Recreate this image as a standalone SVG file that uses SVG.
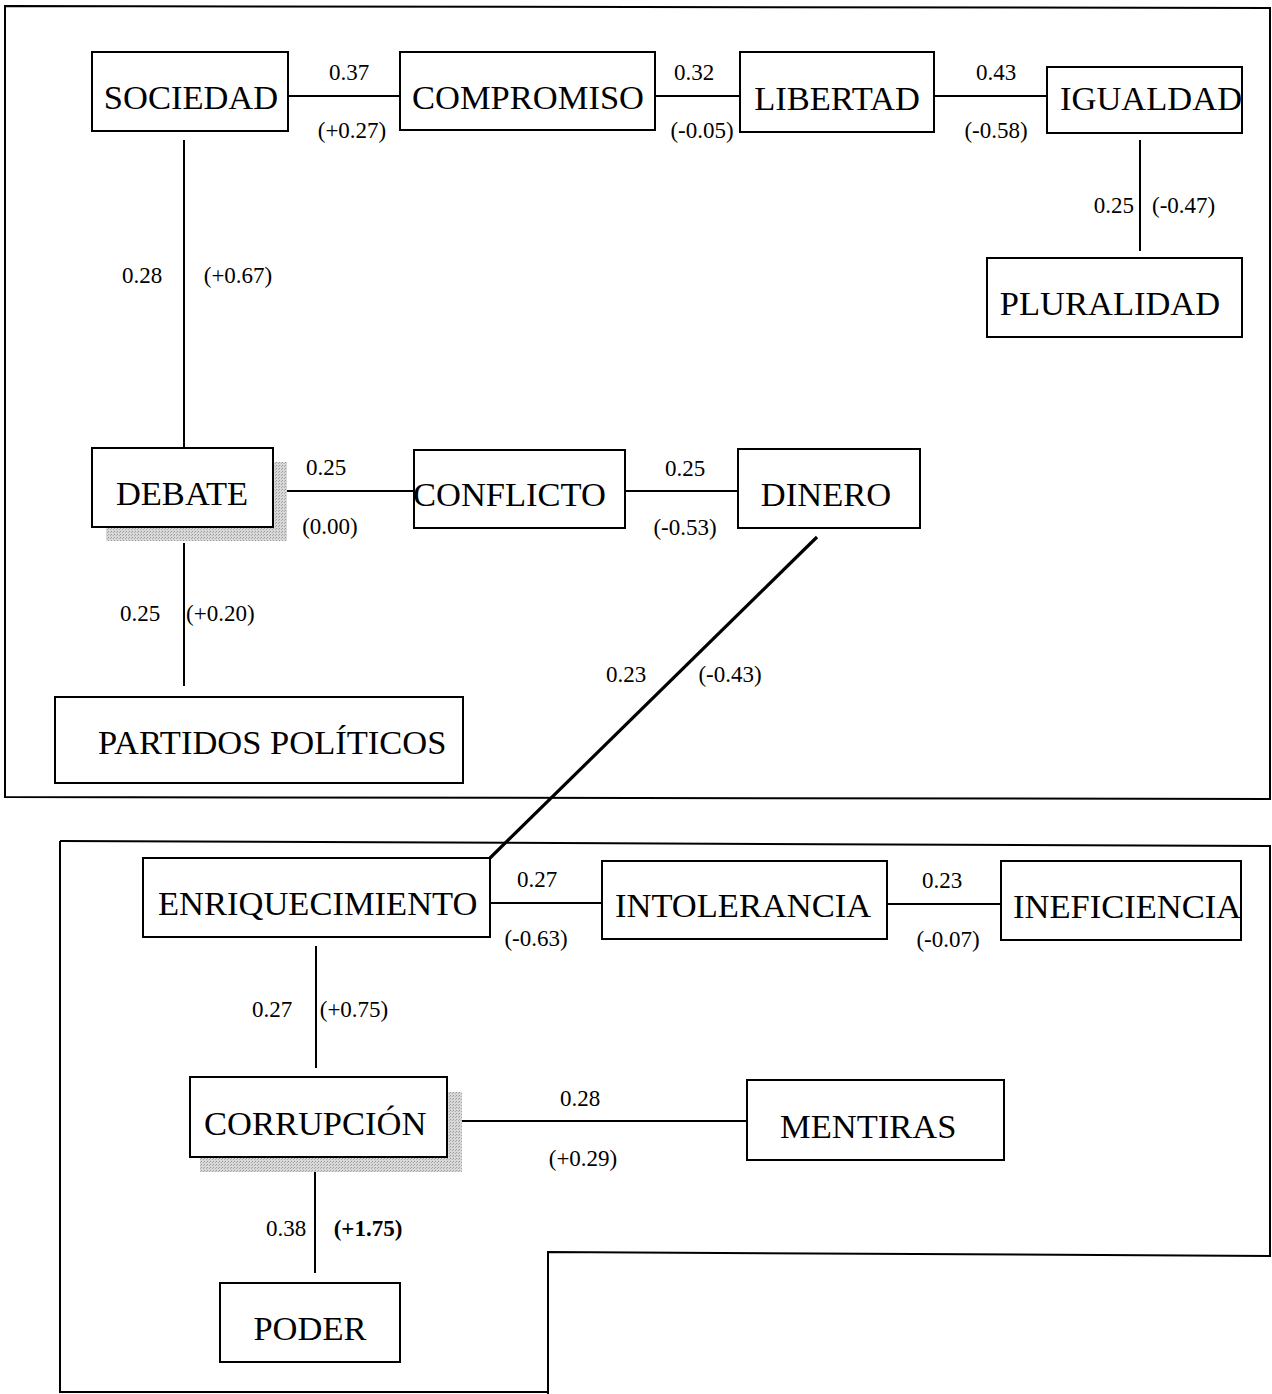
<svg xmlns="http://www.w3.org/2000/svg" width="1272" height="1394" viewBox="0 0 1272 1394">
<defs>
<pattern id="dots" width="3" height="3" patternUnits="userSpaceOnUse">
<rect width="3" height="3" fill="#d8d8d8"/>
<rect width="1" height="1" fill="#999"/>
<rect x="2" y="1" width="1" height="1" fill="#aaa"/>
</pattern>
</defs>
<style>
.box{fill:#fff;stroke:#000;stroke-width:2}
.frame{fill:none;stroke:#000;stroke-width:2}
.ln{stroke:#000;stroke-width:2;fill:none}
.thick{stroke-width:3.2}
.nt{font-family:"Liberation Serif","Times New Roman",serif;font-size:34.5px;fill:#000}
.lb{font-family:"Liberation Serif","Times New Roman",serif;font-size:23px;fill:#000}
.b{font-weight:bold}
.sh{fill:url(#dots)}
</style>
<rect width="1272" height="1394" fill="#fff"/>
<g id="frames">
<path class="frame" d="M5,6 L1270,8 L1270,799 L5,797 Z"/>
<path class="frame" d="M60,841 L1270,846 L1270,1256 L548,1252 L548,1394"/>
<path class="frame" d="M60,841 L60,1392 L548,1392"/>
</g>
<g id="connectors">
<line class="ln" x1="288" y1="96" x2="402" y2="96"/>
<line class="ln" x1="655" y1="96" x2="748" y2="96"/>
<line class="ln" x1="934" y1="96" x2="1055" y2="96"/>
<line class="ln" x1="1140" y1="140" x2="1140" y2="251"/>
<line class="ln" x1="184" y1="140" x2="184" y2="448"/>
<line class="ln" x1="270" y1="491" x2="418" y2="491"/>
<line class="ln" x1="625" y1="491" x2="745" y2="491"/>
<line class="ln" x1="184" y1="543" x2="184" y2="686"/>
<line class="ln thick" x1="817" y1="537" x2="490" y2="858"/>
<line class="ln" x1="490" y1="903" x2="610" y2="903"/>
<line class="ln" x1="887" y1="904" x2="1010" y2="904"/>
<line class="ln" x1="316" y1="946" x2="316" y2="1068"/>
<line class="ln" x1="428" y1="1121" x2="750" y2="1121"/>
<line class="ln" x1="315" y1="1163" x2="315" y2="1273"/>
<text class="lb" x="349" y="80" text-anchor="middle">0.37</text>
<text class="lb" x="352" y="138" text-anchor="middle">(+0.27)</text>
<text class="lb" x="694" y="80" text-anchor="middle">0.32</text>
<text class="lb" x="702" y="138" text-anchor="middle">(-0.05)</text>
<text class="lb" x="996" y="80" text-anchor="middle">0.43</text>
<text class="lb" x="996" y="138" text-anchor="middle">(-0.58)</text>
<text class="lb" x="1134" y="213" text-anchor="end">0.25</text>
<text class="lb" x="1152" y="213">(-0.47)</text>
<text class="lb" x="142" y="283" text-anchor="middle">0.28</text>
<text class="lb" x="238" y="283" text-anchor="middle">(+0.67)</text>
<text class="lb" x="326" y="475" text-anchor="middle">0.25</text>
<text class="lb" x="330" y="534" text-anchor="middle">(0.00)</text>
<text class="lb" x="685" y="476" text-anchor="middle">0.25</text>
<text class="lb" x="685" y="535" text-anchor="middle">(-0.53)</text>
<text class="lb" x="140" y="621" text-anchor="middle">0.25</text>
<text class="lb" x="186" y="621">(+0.20)</text>
<text class="lb" x="626" y="682" text-anchor="middle">0.23</text>
<text class="lb" x="730" y="682" text-anchor="middle">(-0.43)</text>
<text class="lb" x="537" y="887" text-anchor="middle">0.27</text>
<text class="lb" x="536" y="946" text-anchor="middle">(-0.63)</text>
<text class="lb" x="942" y="888" text-anchor="middle">0.23</text>
<text class="lb" x="948" y="947" text-anchor="middle">(-0.07)</text>
<text class="lb" x="272" y="1017" text-anchor="middle">0.27</text>
<text class="lb" x="354" y="1017" text-anchor="middle">(+0.75)</text>
<text class="lb" x="580" y="1106" text-anchor="middle">0.28</text>
<text class="lb" x="583" y="1166" text-anchor="middle">(+0.29)</text>
<text class="lb" x="286" y="1236" text-anchor="middle">0.38</text>
<text class="lb b" x="368" y="1236" text-anchor="middle">(+1.75)</text>
</g>
<g id="sociedad"><rect class="box" x="92" y="52" width="196" height="79"/><text class="nt" x="191" y="109" text-anchor="middle">SOCIEDAD</text></g>
<g id="compromiso"><rect class="box" x="400" y="52" width="255" height="78"/><text class="nt" x="528" y="109" text-anchor="middle">COMPROMISO</text></g>
<g id="libertad"><rect class="box" x="740" y="52" width="194" height="80"/><text class="nt" x="837" y="110" text-anchor="middle">LIBERTAD</text></g>
<g id="igualdad"><rect class="box" x="1047" y="67" width="195" height="66"/><text class="nt" x="1060" y="110">IGUALDAD</text></g>
<g id="pluralidad"><rect class="box" x="987" y="258" width="255" height="79"/><text class="nt" x="1110" y="315" text-anchor="middle">PLURALIDAD</text></g>
<g id="debate"><path class="sh" d="M273,462 H287 V541 H106 V527 H273 Z"/><rect class="box" x="92" y="448" width="181" height="79"/><text class="nt" x="182" y="505" text-anchor="middle">DEBATE</text></g>
<g id="conflicto"><rect class="box" x="414" y="450" width="211" height="78"/><text class="nt" x="413" y="506">CONFLICTO</text></g>
<g id="dinero"><rect class="box" x="738" y="449" width="182" height="79"/><text class="nt" x="826" y="506" text-anchor="middle">DINERO</text></g>
<g id="partidos"><rect class="box" x="55" y="697" width="408" height="86"/><text class="nt" x="98" y="754">PARTIDOS POLÍTICOS</text></g>
<g id="enriquecimiento"><rect class="box" x="143" y="858" width="347" height="79"/><text class="nt" x="158" y="915">ENRIQUECIMIENTO</text></g>
<g id="intolerancia"><rect class="box" x="602" y="861" width="285" height="78"/><text class="nt" x="615" y="917">INTOLERANCIA</text></g>
<g id="ineficiencia"><rect class="box" x="1001" y="861" width="240" height="79"/><text class="nt" x="1013" y="918">INEFICIENCIA</text></g>
<g id="corrupcion"><path class="sh" d="M447,1092 H462 V1172 H200 V1157 H447 Z"/><rect class="box" x="190" y="1077" width="257" height="80"/><text class="nt" x="204" y="1135">CORRUPCIÓN</text></g>
<g id="mentiras"><rect class="box" x="747" y="1080" width="257" height="80"/><text class="nt" x="780" y="1138">MENTIRAS</text></g>
<g id="poder"><rect class="box" x="220" y="1283" width="180" height="79"/><text class="nt" x="310" y="1340" text-anchor="middle">PODER</text></g>
</svg>
